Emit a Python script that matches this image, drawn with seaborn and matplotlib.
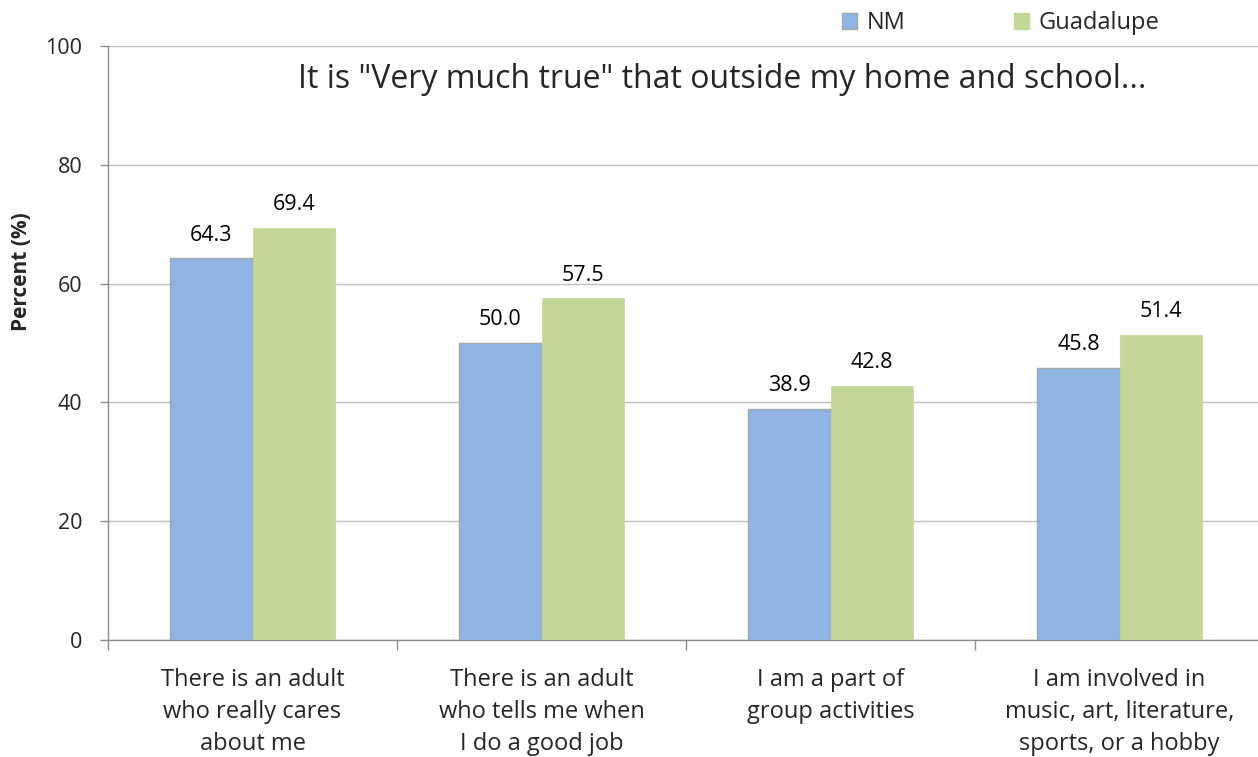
import matplotlib
matplotlib.use("Agg")
import matplotlib.pyplot as plt
import seaborn as sns
import pandas as pd
from matplotlib.patches import Patch
from matplotlib.ticker import FixedLocator, NullFormatter

categories = [
    "There is an adult\nwho really cares\nabout me",
    "There is an adult\nwho tells me when\nI do a good job",
    "I am a part of\ngroup activities",
    "I am involved in\nmusic, art, literature,\nsports, or a hobby",
]
series_names = ["NM", "Guadalupe"]
nm_values = [64.3, 50.0, 38.9, 45.8]
guadalupe_values = [69.4, 57.5, 42.8, 51.4]
y_ticks = [0, 20, 40, 60, 80, 100]
title_text = 'It is "Very much true" that outside my home and school...'

colors = {"NM": "#8EB4E3", "Guadalupe": "#C4D79B"}

df = pd.DataFrame({
    "Item": categories * 2,
    "Region": [series_names[0]] * 4 + [series_names[1]] * 4,
    "Percent": nm_values + guadalupe_values,
})

sns.set_theme(style="white")
plt.rcParams["font.family"] = ["Open Sans", "DejaVu Sans"]

fig = plt.figure(figsize=(12.58, 7.57), dpi=100)
ax = fig.add_axes([0.0859, 0.1546, 0.9189, 0.7846])

sns.barplot(data=df, x="Item", y="Percent", hue="Region", palette=colors,
            width=0.57, gap=0, dodge=True, ax=ax, legend=False,
            saturation=1, errorbar=None, zorder=3)

for container, name in zip(ax.containers, series_names):
    for p in container:
        if name == "NM":
            p.set_edgecolor("#A6A6A6")
            p.set_linewidth(1.0)
        else:
            p.set_edgecolor("#C4D79B")
            p.set_linewidth(0.5)
    ax.bar_label(container, fmt="%.1f", padding=9, fontsize=15.5, color="#000000")

ax.set_ylim(0, 100)
ax.set_xlim(-0.5, 3.5)
ax.set_yticks(y_ticks)
ax.set_yticklabels([str(v) for v in y_ticks], fontsize=15.5)
ax.yaxis.grid(True, color="#BFBFBF", linewidth=1.0, zorder=0)
ax.set_axisbelow(True)

# category boundaries carry the tick marks; names sit at the centres
ax.xaxis.set_major_locator(FixedLocator([-0.5, 0.5, 1.5, 2.5, 3.5]))
ax.xaxis.set_major_formatter(NullFormatter())
ax.xaxis.set_minor_locator(FixedLocator([0, 1, 2, 3]))
ax.set_xticklabels(categories, minor=True, fontsize=17, linespacing=1.45)
ax.tick_params(axis="x", which="major", direction="out", length=7, width=1,
               color="#8C8C8C", bottom=True)
ax.tick_params(axis="x", which="minor", length=0, pad=20)
ax.tick_params(axis="y", direction="out", length=6, width=1, color="#8C8C8C",
               left=True, pad=12.5)

for side in ["top", "right"]:
    ax.spines[side].set_visible(False)
for side in ["left", "bottom"]:
    ax.spines[side].set_color("#8C8C8C")
    ax.spines[side].set_linewidth(1.0)

ax.set_xlabel("")
ax.set_ylabel("Percent (%)", fontsize=15, fontweight="bold")
ax.yaxis.set_label_coords(-0.0657, 0.620)

ax.text(0.531, 0.943, title_text, transform=ax.transAxes, ha="center",
        va="center", fontsize=23)

handles = [Patch(facecolor=colors["NM"], edgecolor="#A6A6A6"),
           Patch(facecolor=colors["Guadalupe"], edgecolor=colors["Guadalupe"])]
fig.legend(handles, series_names, loc="center left", bbox_to_anchor=(0.669, 0.969),
           ncol=2, frameon=False, fontsize=17, handlelength=0.65, handleheight=0.65,
           handletextpad=0.4, columnspacing=4.6, borderpad=0, borderaxespad=0)

fig.savefig("out.png", dpi=100)
